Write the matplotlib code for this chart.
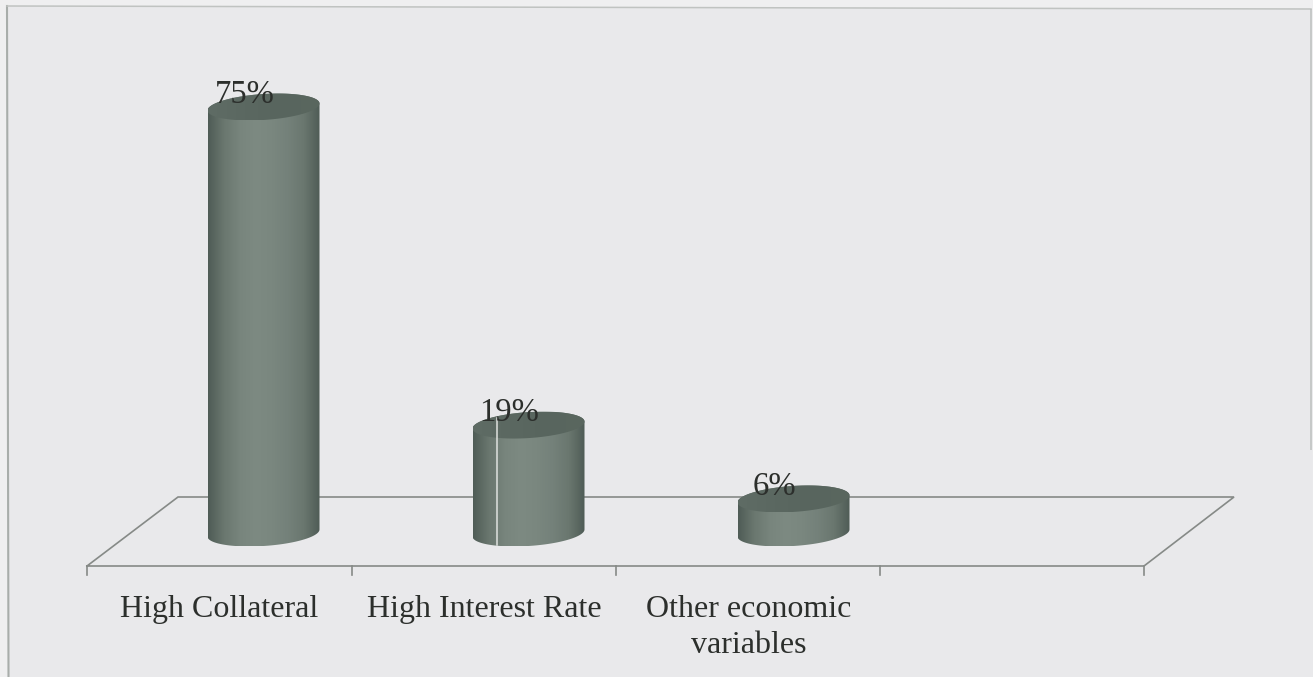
import numpy as np
import matplotlib
matplotlib.use("Agg")
import matplotlib.pyplot as plt
from matplotlib.colors import LinearSegmentedColormap
from matplotlib.patches import PathPatch, Polygon
from matplotlib.path import Path

categories = ["High Collateral", "High Interest Rate", "Other economic\nvariables"]
values = [75, 19, 6]
value_labels = ["75%", "19%", "6%"]

plt.rcParams["font.family"] = ["Liberation Serif", "DejaVu Serif"]

W, H = 1313, 677
BG = "#e9e9eb"
LINE = "#868a87"
TEXT = "#2c2f2c"

# axes fill the figure; one category step is 265 px, one percent is 5.68 px
X_STEP = 265.0
Y_STEP = 5.68
X0 = 263.5
Y0 = 533.0


def px_x(p):
    return (p - X0) / X_STEP


def px_y(p):
    return (Y0 - p) / Y_STEP


fig = plt.figure(figsize=(W / 100, H / 100), dpi=100, facecolor="#efeff0")
ax = fig.add_axes([0, 0, 1, 1])
ax.set_xlim(px_x(0), px_x(W))
ax.set_ylim(px_y(H), px_y(0))
ax.axis("off")

# chart panel with its thin outline, running slightly off square
panel = Polygon([(px_x(7), px_y(6)), (px_x(1312), px_y(9)), (px_x(1313), px_y(677)), (px_x(8.5), px_y(677))],
                closed=True, facecolor=BG, edgecolor="none", zorder=0)
ax.add_patch(panel)
ax.plot([px_x(7), px_x(8.5)], [px_y(6), px_y(677)], color="#a8adaa", lw=1.5, zorder=1)
ax.plot([px_x(7), px_x(1311)], [px_y(6), px_y(9)], color="#c0c3c1", lw=1.1, zorder=1)
ax.plot([px_x(1311), px_x(1311)], [px_y(9), px_y(450)], color="#bcc0be", lw=1.1,
        solid_capstyle="butt", zorder=1)

# floor of the 3D plot
floor_x = [px_x(87), px_x(178), px_x(1234), px_x(1144), px_x(87)]
floor_y = [px_y(566), px_y(497), px_y(497), px_y(566), px_y(566)]
ax.plot(floor_x, floor_y, color=LINE, lw=1.2, zorder=2, solid_joinstyle="miter")

tick_x = [87, 352, 616, 880, 1144]
for t in tick_x:
    ax.plot([px_x(t), px_x(t)], [px_y(566), px_y(575)], color=LINE, lw=1.2, zorder=2)

side_cmap = LinearSegmentedColormap.from_list(
    "side", ["#4f5c56", "#6a776f", "#78857d", "#7d8a82", "#7a877f", "#74817a", "#6a776f", "#4f5c56"])
top_cmap = LinearSegmentedColormap.from_list(
    "top", ["#5f6c65", "#5b6861", "#58655e", "#5a675f"])

half_w = 56 / X_STEP
half_h = 13 / Y_STEP
skew = 3.5 / Y_STEP


def rim(cx, cy, t):
    return cx + half_w * np.cos(t), cy + half_h * np.sin(t) + skew * np.cos(t)


def shaded(verts, cmap, zorder):
    # horizontal gradient clipped to the outline
    xs = [v[0] for v in verts]
    ys = [v[1] for v in verts]
    grad = np.linspace(0, 1, 256).reshape(1, -1)
    img = ax.imshow(grad, cmap=cmap, extent=[min(xs), max(xs), min(ys), max(ys)],
                    aspect="auto", zorder=zorder, interpolation="bilinear")
    patch = PathPatch(Path(list(verts) + [verts[0]], closed=True), transform=ax.transData,
                      facecolor="none", edgecolor="none")
    ax.add_patch(patch)
    img.set_clip_path(patch)


for i, v in enumerate(values):
    front = np.linspace(np.pi, 2 * np.pi, 60)
    back = np.linspace(0, np.pi, 60)
    bx, by = rim(i, 0, front)
    tx, ty = rim(i, v, back)
    body = list(zip(np.r_[bx, tx], np.r_[by, ty]))
    shaded(body, side_cmap, 3)

    full = np.linspace(0, 2 * np.pi, 120)
    ex, ey = rim(i, v, full)
    shaded(list(zip(ex, ey)), top_cmap, 4)

    # value label sits over the back rim of the cap
    ax.text(i - 0.072, v + 2.2, value_labels[i], ha="center", va="center",
            fontsize=23.5, color=TEXT, zorder=6)

# ax.imshow resets the limits, put them back
ax.set_xlim(px_x(0), px_x(W))
ax.set_ylim(px_y(H), px_y(0))

# light vertical streak across the second cylinder
ax.plot([px_x(497), px_x(497)], [px_y(418), px_y(545)], color="#dfe2df", lw=1.1, zorder=5)

# va="baseline" anchors on the last line, so wrapped labels go one line lower
label_x = [219, 484, 748.5]
for i, name in enumerate(categories):
    base = 617 + 36 * name.count("\n")
    ax.text(px_x(label_x[i]), px_y(base), name, ha="center", va="baseline", multialignment="center",
            fontsize=23, color=TEXT, linespacing=1.3, zorder=6)

fig.savefig("out.png", dpi=100, facecolor=fig.get_facecolor())
